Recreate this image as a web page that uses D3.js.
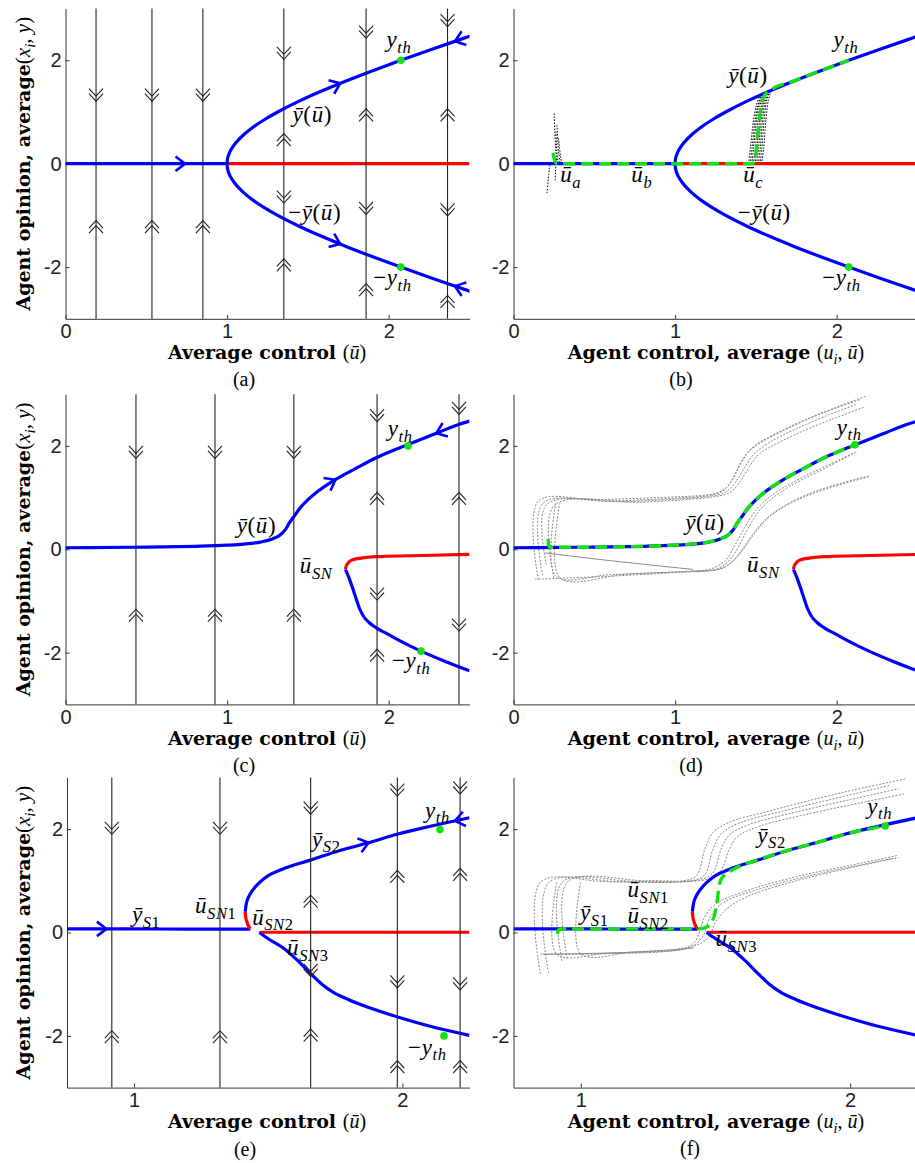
<!DOCTYPE html>
<html>
<head>
<meta charset="utf-8">
<title>Opinion bifurcation diagrams</title>
<script src="https://cdn.jsdelivr.net/npm/d3@7"></script>
<style>
  body { margin: 0; background: #fff; }
  svg { display: block; }
  text { white-space: pre; }
  .axis path, .axis line { stroke: #333; stroke-width: 1; }
  .axis text { font-family: 'Liberation Sans', Arial, sans-serif; font-size: 20px; fill: #222; }
</style>
</head>
<body>
<div id="chart"></div>
<script>
// ---------------- data (u, y) ----------------

// (a), (b): pitchfork
const zeroStableAB = [[0, 0], [1, 0]]
const zeroUnstableAB = [[1, 0], [2.5, 0]]
const upperAB = [[1, 0], [1.003, 0.1], [1.013, 0.2], [1.03, 0.3], [1.053, 0.4], [1.099, 0.55], [1.158, 0.7],
  [1.23, 0.85], [1.313, 1.0], [1.439, 1.2], [1.581, 1.4], [1.736, 1.6], [1.901, 1.8], [2.075, 2.0],
  [2.255, 2.2], [2.44, 2.4], [2.534, 2.5]]
const lowerAB = [[1, 0], [1.003, -0.1], [1.013, -0.2], [1.03, -0.3], [1.053, -0.4], [1.099, -0.55], [1.158, -0.7],
  [1.23, -0.85], [1.313, -1.0], [1.439, -1.2], [1.581, -1.4], [1.736, -1.6], [1.901, -1.8], [2.075, -2.0],
  [2.255, -2.2], [2.44, -2.4], [2.534, -2.5]]

// (c), (d): imperfect pitchfork
const upperCD = [[0, 0.03], [0.4, 0.04], [0.835, 0.06], [1.0, 0.08], [1.1, 0.1], [1.206, 0.14], [1.28, 0.2],
  [1.33, 0.28], [1.36, 0.38], [1.387, 0.52], [1.42, 0.66], [1.449, 0.79], [1.5, 0.96], [1.552, 1.1],
  [1.655, 1.32], [1.8, 1.57], [1.923, 1.77], [2.113, 2.02], [2.3, 2.25], [2.437, 2.42], [2.5, 2.48]]
const saddleCD = [[1.732, -0.39], [1.738, -0.32], [1.75, -0.26], [1.78, -0.2], [1.83, -0.17], [1.95, -0.14],
  [2.2, -0.12], [2.5, -0.1]]
const lowerCD = [[1.732, -0.39], [1.745, -0.48], [1.76, -0.6], [1.78, -0.78], [1.8, -0.97], [1.82, -1.15],
  [1.845, -1.3], [1.88, -1.42], [1.923, -1.52], [2.0, -1.65], [2.07, -1.77], [2.2, -1.97], [2.35, -2.17], [2.5, -2.35]]

// (e), (f): three saddle-node points
const s1EF = [[0.75, 0.07], [1.0, 0.07], [1.2, 0.065], [1.38, 0.065], [1.425, 0.065], [1.433, 0.07]]
const midEF = [[1.414, 0.4], [1.416, 0.3], [1.421, 0.2], [1.427, 0.12], [1.433, 0.07]]
const s2EF = [[1.414, 0.4], [1.418, 0.55], [1.428, 0.7], [1.445, 0.84], [1.47, 0.98], [1.5, 1.1], [1.55, 1.22],
  [1.657, 1.4], [1.77, 1.59], [1.869, 1.73], [1.98, 1.9], [2.1, 2.05], [2.25, 2.22]]
const zeroEF = [[1.467, 0], [1.48, 0.005], [2.25, 0.005]]
const s3EF = [[1.467, 0], [1.5, -0.12], [1.556, -0.3], [1.607, -0.53], [1.657, -0.79], [1.7, -1.0], [1.74, -1.15],
  [1.8, -1.3], [1.88, -1.46], [1.98, -1.63], [2.1, -1.81], [2.25, -1.99]]

// green dashed average trajectories
const greenB = [[0.244, 0.21], [0.25, 0.12], [0.258, 0.04], [0.27, 0], [1.48, 0], [1.497, 0.1], [1.507, 0.4],
  [1.517, 0.72], [1.528, 1.0], [1.538, 1.2], [1.555, 1.33], [1.58, 1.4], [1.736, 1.6], [1.901, 1.8], [2.075, 2.0]]
const greenD = [[0.215, 0.2], [0.216, 0.08], [0.225, 0.04], [0.4, 0.04], [0.835, 0.06], [1.0, 0.08], [1.1, 0.1],
  [1.206, 0.14], [1.28, 0.2], [1.33, 0.28], [1.36, 0.38], [1.387, 0.52], [1.42, 0.66], [1.449, 0.79], [1.5, 0.96],
  [1.552, 1.1], [1.655, 1.32], [1.8, 1.57], [1.923, 1.77], [2.113, 2.02]]
const greenF = [[0.913, -0.03], [0.917, 0.05], [0.93, 0.07], [1.2, 0.07], [1.433, 0.07], [1.46, 0.09], [1.485, 0.2],
  [1.497, 0.35], [1.506, 0.6], [1.512, 0.85], [1.52, 1.02], [1.54, 1.14], [1.565, 1.22], [1.657, 1.4], [1.77, 1.59],
  [1.869, 1.73], [1.98, 1.9], [2.13, 2.06]]

// agent trajectories (b): black dotted
const agentsBa = [
  [[0.207, -0.57], [0.215, -0.3], [0.222, -0.1], [0.227, 0]],
  [[0.258, -0.32], [0.26, -0.15], [0.262, 0]],
  [[0.252, 0.97], [0.256, 0.6], [0.262, 0.25], [0.269, 0]],
  [[0.269, 0.75], [0.274, 0.45], [0.28, 0.2], [0.289, 0]],
  [[0.279, 0.49], [0.285, 0.3], [0.292, 0.12], [0.3, 0]],
  [[0.262, 0.62], [0.266, 0.35], [0.272, 0.12], [0.278, 0]]
]
const agentsBc = [
  [[1.455, 0], [1.466, 0.3], [1.482, 0.75], [1.5, 1.1], [1.522, 1.3]],
  [[1.465, 0], [1.476, 0.3], [1.492, 0.75], [1.51, 1.1], [1.53, 1.31]],
  [[1.475, 0], [1.485, 0.3], [1.5, 0.75], [1.515, 1.1], [1.535, 1.32]],
  [[1.485, 0], [1.496, 0.3], [1.51, 0.75], [1.525, 1.12], [1.545, 1.34]],
  [[1.495, 0], [1.506, 0.3], [1.52, 0.75], [1.535, 1.12], [1.555, 1.36]],
  [[1.505, 0], [1.516, 0.3], [1.53, 0.78], [1.545, 1.15], [1.565, 1.37]],
  [[1.515, 0], [1.527, 0.3], [1.54, 0.8], [1.555, 1.17], [1.575, 1.38]],
  [[1.525, 0], [1.537, 0.3], [1.55, 0.82], [1.565, 1.2], [1.585, 1.4]],
  [[1.535, 0], [1.548, 0.3], [1.562, 0.85], [1.577, 1.22], [1.595, 1.41]]
]
// agent trajectories (d), (f): grey dotted
const agentsD = [
  [[0.153, -0.58], [0.153, 0.93], [0.5, 0.96], [0.9, 1.0], [1.15, 1.04], [1.25, 1.08], [1.32, 1.2], [1.37, 1.45],
    [1.42, 1.75], [1.49, 2.0], [1.6, 2.2], [1.8, 2.5], [2.0, 2.75], [2.18, 2.96]],
  [[0.18, -0.5], [0.18, 0.88], [0.6, 0.93], [1.0, 0.99], [1.2, 1.04], [1.29, 1.12], [1.35, 1.32], [1.4, 1.62],
    [1.46, 1.9], [1.55, 2.1], [1.7, 2.34], [1.9, 2.62], [2.15, 2.9]],
  [[0.204, -0.3], [0.204, 0.86], [0.7, 0.92], [1.05, 0.98], [1.22, 1.03], [1.31, 1.1], [1.37, 1.28], [1.43, 1.58],
    [1.49, 1.85], [1.58, 2.06], [1.75, 2.33], [1.95, 2.6], [2.12, 2.8]],
  [[0.25, -0.55], [0.25, 0.84], [0.8, 0.91], [1.1, 0.97], [1.25, 1.02], [1.34, 1.1], [1.4, 1.3], [1.46, 1.6],
    [1.52, 1.84], [1.62, 2.03], [1.8, 2.3], [2.0, 2.55], [2.17, 2.75]],
  [[0.262, 0.9], [0.262, -0.52], [0.6, -0.49], [1.0, -0.44], [1.2, -0.42], [1.3, -0.36], [1.38, -0.15], [1.46, 0.2],
    [1.55, 0.55], [1.68, 0.85], [1.85, 1.1], [2.05, 1.3], [2.2, 1.42]],
  [[0.287, 0.9], [0.287, -0.55], [0.7, -0.48], [1.05, -0.43], [1.24, -0.4], [1.33, -0.3], [1.41, -0.05], [1.49, 0.3],
    [1.58, 0.62], [1.72, 0.9], [1.9, 1.13], [2.1, 1.32], [2.2, 1.4]],
  [[0.132, -0.58], [0.6, -0.52], [1.0, -0.45], [1.15, -0.42], [1.26, -0.38], [1.34, -0.2], [1.4, 0.1], [1.46, 0.45],
    [1.53, 0.78], [1.65, 1.1], [1.8, 1.37], [1.95, 1.6], [2.1, 1.85]],
  [[1.1, -0.42], [1.22, -0.38], [1.31, -0.22], [1.37, 0.08], [1.43, 0.42], [1.5, 0.75], [1.6, 1.05], [1.75, 1.33],
    [1.9, 1.56], [2.05, 1.78], [2.12, 1.88]]
]
const agentsDsolid = [[[0.194, -0.07], [0.6, -0.22], [1.113, -0.39]]]
const agentsF = [
  [[0.85, -0.8], [0.85, 0.97], [1.1, 0.98], [1.38, 1.0], [1.43, 1.1], [1.46, 1.6], [1.49, 1.93], [1.55, 2.13],
    [1.7, 2.35], [1.9, 2.62], [2.05, 2.8], [2.205, 2.97]],
  [[0.88, -0.78], [0.88, 0.96], [1.15, 0.98], [1.41, 1.0], [1.46, 1.12], [1.49, 1.6], [1.52, 1.9], [1.58, 2.1],
    [1.75, 2.35], [1.95, 2.6], [2.15, 2.85]],
  [[0.93, -0.55], [0.93, 0.97], [1.2, 0.99], [1.44, 1.02], [1.49, 1.15], [1.52, 1.6], [1.55, 1.88], [1.62, 2.08],
    [1.8, 2.33], [2.0, 2.57], [2.18, 2.78]],
  [[0.95, -0.5], [0.95, 0.97], [1.25, 1.0], [1.47, 1.03], [1.52, 1.2], [1.55, 1.6], [1.58, 1.85], [1.66, 2.05],
    [1.85, 2.3], [2.05, 2.52], [2.2, 2.68]],
  [[0.91, 0.97], [0.91, -0.42], [1.1, -0.4], [1.35, -0.33], [1.42, -0.2], [1.46, 0.3], [1.5, 0.55], [1.6, 0.78],
    [1.8, 1.08], [2.0, 1.3], [2.175, 1.49]],
  [[0.999, 0.97], [0.999, -0.41], [1.2, -0.37], [1.4, -0.3], [1.45, -0.1], [1.48, 0.3], [1.53, 0.58], [1.65, 0.82],
    [1.85, 1.1], [2.05, 1.32], [2.16, 1.44]],
  [[0.85, -0.42], [1.1, -0.41], [1.38, -0.32], [1.47, -0.12], [1.5, 0.2], [1.54, 0.45], [1.62, 0.7], [1.8, 1.0],
    [2.0, 1.25], [2.18, 1.45]]
]
const agentsFsolid = [[[0.86, -0.42], [1.2, -0.38], [1.42, -0.3]]]

// vertical flow lines and their double chevrons [u, y, dir(+1 up / -1 down)]
const flowA = [0.189, 0.535, 0.85, 1.351, 1.86, 2.364]
const marksA = [
  [0.189, 1.33, -1], [0.189, -1.22, 1], [0.535, 1.33, -1], [0.535, -1.22, 1], [0.85, 1.33, -1], [0.85, -1.22, 1],
  [1.351, 2.14, -1], [1.351, 0.46, 1], [1.351, -0.64, -1], [1.351, -1.96, 1],
  [1.86, 2.55, -1], [1.86, 0.94, 1], [1.86, -0.86, -1], [1.86, -2.44, 1],
  [2.364, 2.77, -1], [2.364, 0.94, 1], [2.364, -0.89, -1], [2.364, -2.67, 1]
]
const flowC = [0.436, 0.925, 1.413, 1.928, 2.435]
const marksC = [
  [0.436, 1.88, -1], [0.436, -1.28, 1], [0.925, 1.88, -1], [0.925, -1.28, 1], [1.413, 1.88, -1], [1.413, -1.28, 1],
  [1.928, 2.59, -1], [1.928, 0.98, 1], [1.928, -0.86, -1], [1.928, -2.05, 1],
  [2.435, 2.73, -1], [2.435, 0.98, 1], [2.435, -1.46, -1]
]
const flowE = [0.917, 1.32, 1.658, 1.981, 2.215]
const marksE = [
  [0.917, 2.02, -1], [0.917, -2.02, 1], [1.32, 2.02, -1], [1.32, -2.02, 1],
  [1.658, 2.41, -1], [1.658, 0.6, 1], [1.658, -0.73, -1], [1.658, -1.99, 1],
  [1.981, 2.76, -1], [1.981, 1.08, 1], [1.981, -0.95, -1], [1.981, -2.6, 1],
  [2.215, 2.8, -1], [2.215, 1.12, 1], [2.215, -0.99, -1], [2.215, -2.6, 1]
]

// threshold dots
const dotsA = [[2.075, 2], [2.075, -2]]
const dotsB = [[2.075, -2]]
const dotsC = [[2.12, 2.0], [2.2, -1.97]]
const dotsD = [[2.113, 2.02]]
const dotsE = [[2.14, 1.99], [2.155, -2.0]]
const dotsF = [[2.13, 2.06]]

// math labels: position of text start / baseline in data units
const labelsA = [
  { u: 1.986, y: 2.26, s: 'y_{th}' }, { u: 1.405, y: 0.81, s: 'ȳ(ū)' },
  { u: 1.378, y: -1.09, s: '−ȳ(ū)' }, { u: 1.904, y: -2.35, s: '−y_{th}' }
]
const labelsB = [
  { u: 0.289, y: -0.36, s: 'ū_{a}' }, { u: 0.729, y: -0.36, s: 'ū_{b}' }, { u: 1.421, y: -0.36, s: 'ū_{c}' },
  { u: 1.329, y: 1.56, s: 'ȳ(ū)' }, { u: 1.98, y: 2.26, s: 'y_{th}' },
  { u: 1.388, y: -1.09, s: '−ȳ(ū)' }, { u: 1.91, y: -2.35, s: '−y_{th}' }
]
const labelsC = [
  { u: 1.06, y: 0.31, s: 'ȳ(ū)' }, { u: 1.994, y: 2.19, s: 'y_{th}' },
  { u: 1.45, y: -0.46, s: 'ū_{SN}' }, { u: 2.02, y: -2.3, s: '−y_{th}' }
]
const labelsD = [
  { u: 1.063, y: 0.37, s: 'ȳ(ū)' }, { u: 2.0, y: 2.22, s: 'y_{th}' }, { u: 1.445, y: -0.44, s: 'ū_{SN}' }
]
const labelsE = [
  { u: 0.992, y: 0.2, s: 'ȳ_{S1}' }, { u: 1.227, y: 0.38, s: 'ū_{SN1}' }, { u: 1.44, y: 0.15, s: 'ū_{SN2}' },
  { u: 1.57, y: -0.44, s: 'ū_{SN3}' }, { u: 1.663, y: 1.66, s: 'ȳ_{S2}' },
  { u: 2.084, y: 2.22, s: 'y_{th}' }, { u: 2.021, y: -2.36, s: '−y_{th}' }
]
const labelsF = [
  { u: 0.997, y: 0.24, s: 'ȳ_{S1}' }, { u: 1.173, y: 0.68, s: 'ū_{SN1}' }, { u: 1.173, y: 0.18, s: 'ū_{SN2}' },
  { u: 1.5, y: -0.26, s: 'ū_{SN3}' }, { u: 1.655, y: 1.74, s: 'ȳ_{S2}' }, { u: 2.063, y: 2.3, s: 'y_{th}' }
]

const yTicks = [-2, 0, 2]
const BLUE = '#0000ff', RED = '#ff0000', GREEN = '#11e011'
const MATH_FONT = "'Liberation Serif', 'Times New Roman', serif"

// ---------------- drawing ----------------
const svg = d3.select('#chart').append('svg').attr('width', 915).attr('height', 1163)
const UNIT = 51.7
let clipCount = 0

function makePanel(xRange, y0, xDomain, xTicks) {
    const top = y0 - 3 * UNIT, bottom = y0 + 3 * UNIT
    const x = d3.scaleLinear().domain(xDomain).range(xRange)
    const y = d3.scaleLinear().domain([-3, 3]).range([bottom, top])

    svg.append('g').attr('class', 'axis').attr('transform', `translate(0,${bottom})`)
        .call(d3.axisBottom(x).tickValues(xTicks).tickSizeInner(-4).tickSizeOuter(0).tickPadding(5)
            .tickFormat(d3.format('d')))
    svg.append('g').attr('class', 'axis').attr('transform', `translate(${xRange[0]},0)`)
        .call(d3.axisLeft(y).tickValues(yTicks).tickSizeInner(-4).tickSizeOuter(0).tickPadding(4)
            .tickFormat(d => d < 0 ? '-' + Math.abs(d) : String(d)))

    const id = 'clip' + (clipCount++)
    svg.append('clipPath').attr('id', id).append('rect')
        .attr('x', xRange[0]).attr('y', top - 3)
        .attr('width', xRange[1] - xRange[0]).attr('height', bottom - top + 3)
    const g = svg.append('g').attr('clip-path', `url(#${id})`)
    return { x, y, g, top, bottom }
}

function drawCurve(p, data, color, opts = {}) {
    const gen = d3.line().x(d => p.x(d[0])).y(d => p.y(d[1])).curve(opts.curve || d3.curveMonotoneX)
    p.g.append('path').attr('d', gen(data))
        .attr('fill', 'none').attr('stroke', color)
        .attr('stroke-width', opts.width || 3.2)
        .attr('stroke-dasharray', opts.dash || null)
}

function drawAgents(p, list, color, dash, width) {
    list.forEach(tr => drawCurve(p, tr, color, { curve: d3.curveCatmullRom.alpha(0.5), dash, width }))
}

function drawFlow(p, lines, marks) {
    lines.forEach(u => {
        svg.append('line').attr('x1', p.x(u)).attr('x2', p.x(u)).attr('y1', p.top).attr('y2', p.bottom)
            .attr('stroke', '#222').attr('stroke-width', 1.1)
    })
    const w = 7, h = 7.5, gap = 5
    marks.forEach(([u, yv, dir]) => {
        const cx = p.x(u), cy = p.y(yv)
        const front = cy - dir * (h + gap) / 2
        ;[front, front + dir * gap].forEach(tip => {
            svg.append('path')
                .attr('d', `M${cx - w},${tip + dir * h}L${cx},${tip}L${cx + w},${tip + dir * h}`)
                .attr('fill', 'none').attr('stroke', '#222').attr('stroke-width', 1.1)
        })
    })
}

function curveArrow(p, data, u, dir) {
    const tx = p.x(u)
    const pts = data.map(d => [p.x(d[0]), p.y(d[1])])
    for (let i = 0; i < pts.length - 1; i++) {
        const [ax, ay] = pts[i], [bx, by] = pts[i + 1]
        if (bx === ax || (ax - tx) * (bx - tx) > 0) continue
        const ty = ay + (tx - ax) / (bx - ax) * (by - ay)
        let ang = Math.atan2(by - ay, bx - ax)
        if ((bx - ax) * dir < 0) ang += Math.PI
        const L = 12, spread = 0.65
        const a1 = [tx - L * Math.cos(ang - spread), ty - L * Math.sin(ang - spread)]
        const a2 = [tx - L * Math.cos(ang + spread), ty - L * Math.sin(ang + spread)]
        svg.append('path').attr('d', `M${a1}L${tx},${ty}L${a2}`)
            .attr('fill', 'none').attr('stroke', BLUE).attr('stroke-width', 2.6)
        return
    }
}

function drawDots(p, dots) {
    p.g.selectAll(null).data(dots).enter().append('circle')
        .attr('cx', d => p.x(d[0])).attr('cy', d => p.y(d[1])).attr('r', 3.8).attr('fill', GREEN)
}

// tiny TeX-like markup: letters italic, the rest upright, _{..} subscript
function mathText(t, str, size) {
    const chunks = []
    let sub = false, i = 0
    while (i < str.length) {
        if (str.startsWith('_{', i)) { sub = true; i += 2; continue }
        if (sub && str[i] === '}') { sub = false; i++; continue }
        const ch = str[i]
        const it = /[A-Za-zȳū]/.test(ch)
        const last = chunks[chunks.length - 1]
        if (last && last.it === it && last.sub === sub) last.s += ch
        else chunks.push({ s: ch, it, sub })
        i++
    }
    let shifted = false
    chunks.forEach(c => {
        const ts = t.append('tspan').text(c.s)
            .attr('font-family', MATH_FONT)
            .attr('font-style', c.it ? 'italic' : 'normal')
            .attr('font-weight', 'normal')
            .attr('font-size', c.sub ? size * 0.72 : size)
        if (c.sub && !shifted) { ts.attr('dy', size * 0.25); shifted = true }
        else if (!c.sub && shifted) { ts.attr('dy', -size * 0.25); shifted = false }
    })
}

function drawLabels(p, labels) {
    labels.forEach(l => {
        const t = svg.append('text').attr('x', p.x(l.u)).attr('y', p.y(l.y)).attr('fill', '#000')
            .attr('letter-spacing', 0.6)
        mathText(t, l.s, 23)
    })
}

function xLabel(cx, by, words, math) {
    const t = svg.append('text').attr('x', cx).attr('y', by).attr('text-anchor', 'middle')
        .attr('font-family', 'DejaVu Serif').attr('font-size', 19).attr('fill', '#000')
    t.append('tspan').attr('font-weight', 'bold').text(words)
    mathText(t, math, 20)
}

function yLabel(cy) {
    const t = svg.append('text').attr('transform', `translate(30,${cy}) rotate(-90)`).attr('text-anchor', 'middle')
        .attr('font-family', 'DejaVu Serif').attr('font-size', 19).attr('fill', '#000')
    t.append('tspan').attr('font-weight', 'bold').text('Agent opinion, average')
    mathText(t, '(x_{i}, y)', 21)
}

function caption(cx, by, s) {
    svg.append('text').attr('x', cx).attr('y', by).attr('text-anchor', 'middle')
        .attr('font-family', 'Liberation Serif').attr('font-size', 20).attr('fill', '#000').text(s)
}

const LEFT = [65.5, 469.5], RIGHT = [513.5, 917.5]
const ROW = [163.7, 549.3, 932.5]

// (a)
const pa = makePanel(LEFT, ROW[0], [0, 2.5], [0, 1, 2])
drawFlow(pa, flowA, marksA)
drawCurve(pa, zeroStableAB, BLUE, { curve: d3.curveLinear })
drawCurve(pa, zeroUnstableAB, RED, { curve: d3.curveLinear })
drawCurve(pa, lowerAB.slice().reverse().concat(upperAB.slice(1)), BLUE, { curve: d3.curveMonotoneY })
drawDots(pa, dotsA)
curveArrow(pa, zeroStableAB, 0.74, 1)
curveArrow(pa, upperAB, 1.70, 1)
curveArrow(pa, lowerAB, 1.70, 1)
curveArrow(pa, upperAB, 2.41, -1)
curveArrow(pa, lowerAB, 2.41, -1)
drawLabels(pa, labelsA)

// (b)
const pb = makePanel(RIGHT, ROW[0], [0, 2.5], [0, 1, 2])
drawAgents(pb, agentsBa, '#000', '1.5,1.5', 1)
drawAgents(pb, agentsBc, '#000', '1.5,1.5', 1)
drawCurve(pb, zeroStableAB, BLUE, { curve: d3.curveLinear })
drawCurve(pb, zeroUnstableAB, RED, { curve: d3.curveLinear })
drawCurve(pb, lowerAB.slice().reverse().concat(upperAB.slice(1)), BLUE, { curve: d3.curveMonotoneY })
drawCurve(pb, greenB, GREEN, { dash: '12,6', width: 3.4 })
drawDots(pb, dotsB)
drawLabels(pb, labelsB)

// (c)
const pc = makePanel(LEFT, ROW[1], [0, 2.5], [0, 1, 2])
drawFlow(pc, flowC, marksC)
drawCurve(pc, upperCD, BLUE)
drawCurve(pc, saddleCD, RED)
drawCurve(pc, lowerCD, BLUE)
drawDots(pc, dotsC)
curveArrow(pc, upperCD, 1.67, 1)
curveArrow(pc, upperCD, 2.295, -1)
drawLabels(pc, labelsC)

// (d)
const pd = makePanel(RIGHT, ROW[1], [0, 2.5], [0, 1, 2])
drawAgents(pd, agentsD, '#888', '2,1.5', 1)
drawAgents(pd, agentsDsolid, '#888', null, 1)
drawCurve(pd, upperCD, BLUE)
drawCurve(pd, saddleCD, RED)
drawCurve(pd, lowerCD, BLUE)
drawCurve(pd, greenD, GREEN, { dash: '12,6', width: 3.4 })
drawDots(pd, dotsD)
drawLabels(pd, labelsD)

// (e)
const pe = makePanel([67, 469.5], ROW[2], [0.75, 2.25], [1, 2])
drawFlow(pe, flowE, marksE)
drawCurve(pe, s1EF, BLUE)
drawCurve(pe, midEF, RED)
drawCurve(pe, s2EF, BLUE)
drawCurve(pe, zeroEF, RED)
drawCurve(pe, s3EF, BLUE)
drawDots(pe, dotsE)
curveArrow(pe, s1EF, 0.897, 1)
curveArrow(pe, s2EF, 1.874, 1)
curveArrow(pe, s2EF, 2.196, -1)
drawLabels(pe, labelsE)

// (f)
const pf = makePanel(RIGHT, ROW[2], [0.75, 2.25], [1, 2])
drawAgents(pf, agentsF, '#888', '2,1.5', 1)
drawAgents(pf, agentsFsolid, '#888', null, 1)
drawCurve(pf, s1EF, BLUE)
drawCurve(pf, midEF, RED)
drawCurve(pf, s2EF, BLUE)
drawCurve(pf, zeroEF, RED)
drawCurve(pf, s3EF, BLUE)
drawCurve(pf, greenF, GREEN, { dash: '12,6', width: 3.4 })
drawDots(pf, dotsF)
drawLabels(pf, labelsF)

// axis titles and captions
ROW.forEach(cy => yLabel(cy))
xLabel(267, 359, 'Average control ', '(ū)')
xLabel(716, 359, 'Agent control, average ', '(u_{i}, ū)')
xLabel(267, 745, 'Average control ', '(ū)')
xLabel(716, 745, 'Agent control, average ', '(u_{i}, ū)')
xLabel(267, 1128, 'Average control ', '(ū)')
xLabel(716, 1128, 'Agent control, average ', '(u_{i}, ū)')
caption(244, 386, '(a)')
caption(681, 386, '(b)')
caption(244, 772, '(c)')
caption(691, 772, '(d)')
caption(245, 1156, '(e)')
caption(690, 1155, '(f)')
</script>
</body>
</html>
